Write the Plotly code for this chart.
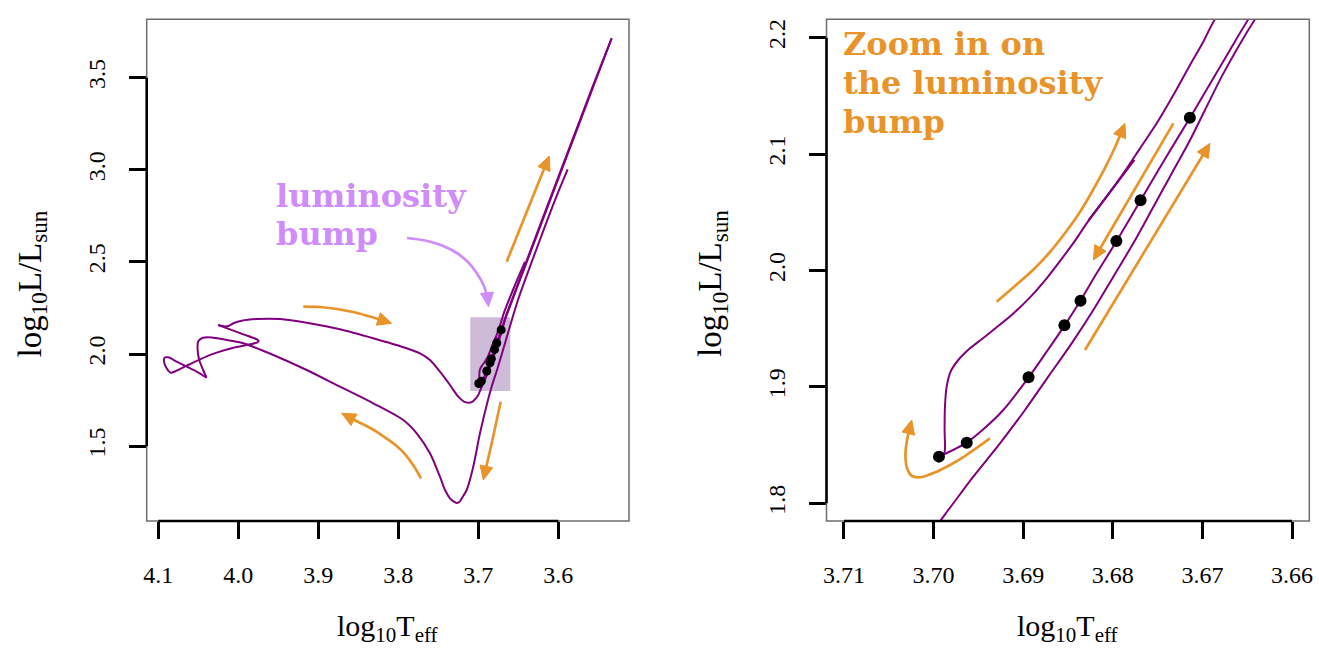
import math
import plotly.graph_objects as go

W, H = 1319, 649

# ---------------- data ----------------
# early part of the evolutionary track (pre-main sequence + main sequence): full HRD only
early_logT = [3.5883, 3.6041, 3.6354, 3.6504, 3.6629, 3.6754, 3.6833, 3.6879, 3.6979, 3.7063,
              3.7145, 3.7204, 3.7235, 3.7265, 3.7300, 3.7354, 3.7416, 3.7479, 3.7604, 3.7770,
              3.7938, 3.8313, 3.8729, 3.9145, 3.9563, 3.9938,
              4.0020, 4.0187, 4.0330, 4.0440, 4.0500, 4.0510, 4.0490, 4.0440, 4.0396,
              4.0520, 4.0646, 4.0771, 4.0875, 4.0921, 4.0929, 4.0896, 4.0846, 4.0771, 4.0646,
              4.0479, 4.0271, 4.0062, 3.9854, 3.9762, 3.9746, 3.9779, 3.9937, 4.0104, 4.0250,
              4.0179, 4.0121, 4.0054, 3.9958, 3.9771]
early_logL = [3.0029, 2.8362, 2.4742, 2.2935, 2.1144, 1.9299, 1.8230, 1.7510, 1.5700, 1.3888,
              1.2623, 1.2189, 1.1980, 1.1915, 1.1980, 1.2173, 1.2623, 1.3345, 1.4615, 1.5700,
              1.6422, 1.7329, 1.8230, 1.9136, 1.9950, 2.0585,
              2.0673, 2.0800, 2.0900, 2.0890, 2.0700, 2.0350, 1.9700, 1.9136, 1.8719,
              1.9045, 1.9317, 1.9588, 1.9823, 1.9805, 1.9588, 1.9226, 1.8991, 1.9100, 1.9371,
              1.9715, 2.0077, 2.0348, 2.0529, 2.0637, 2.0728, 2.0818, 2.1072, 2.1343, 2.1578,
              2.1506, 2.1524, 2.1687, 2.1813, 2.1904]

# later part of the track (post main sequence): both panels
late_logT = [3.9479, 3.9145, 3.8729, 3.8313, 3.7895, 3.7729, 3.7604, 3.7479, 3.7354, 3.7250,
             3.7180, 3.7125, 3.7070, 3.7030, 3.7000,
             3.69836, 3.69557, 3.69259, 3.68980, 3.68720, 3.68459, 3.68217, 3.67994, 3.67771,
             3.67566, 3.67362, 3.67157, 3.66971, 3.66785, 3.66599, 3.66413,
             3.6411, 3.6132, 3.5826, 3.5564, 3.5333,
             3.5572, 3.5834, 3.6140, 3.6419,
             3.66487, 3.66692, 3.66878, 3.67138, 3.67436, 3.67689, 3.67957, 3.68180, 3.68362,
             3.68537, 3.68738, 3.68939, 3.69222, 3.69445, 3.69631, 3.69936,
             3.69884, 3.69873, 3.69877, 3.69873, 3.69854, 3.69810, 3.69724, 3.69594, 3.69464,
             3.69334, 3.69129, 3.68924, 3.68738, 3.68552, 3.68403, 3.68292, 3.67760, 3.68273,
             3.68068, 3.67882, 3.67696, 3.67510, 3.67324, 3.67138, 3.66990, 3.66860, 3.6555, 3.6417]
late_logL = [2.1904, 2.1703, 2.1345, 2.0857, 2.0313, 2.0042, 1.9678, 1.9043, 1.8322, 1.7687,
             1.7420, 1.7363, 1.7420, 1.7600, 1.7780,
             1.79424, 1.82288, 1.85152, 1.88016, 1.90880, 1.93743, 1.96607, 1.99471, 2.02334,
             2.05198, 2.08062, 2.10926, 2.13790, 2.16653, 2.19230, 2.21578,
             2.48, 2.80, 3.15, 3.45, 3.7136,
             3.45, 3.15, 2.80, 2.48,
             2.21578, 2.18943, 2.16509, 2.13130, 2.09350, 2.06028, 2.02534, 1.99757, 1.97408,
             1.95289, 1.93027, 1.90822, 1.88016, 1.86355, 1.85209, 1.84007,
             1.84235, 1.84722, 1.86297, 1.88301, 1.90020, 1.91308, 1.92311, 1.93313, 1.94087,
             1.94888, 1.96177, 1.97695, 1.99327, 2.01188, 2.02763, 2.04051, 2.09493, 2.04281,
             2.06342, 2.08347, 2.10495, 2.12643, 2.15077, 2.17655, 2.19659, 2.21578, 2.36, 2.50]

# highlighted models (black dots)
bump_logT = [3.6994, 3.6963, 3.6894, 3.6854, 3.6836, 3.6796, 3.6769, 3.6714]
bump_logL = [1.8401, 1.8521, 1.9082, 1.9529, 1.9741, 2.0253, 2.0603, 2.1313]

# zoom window (logTeff hot, cool, logL low, high)
zoom_logT = [3.71, 3.66]
zoom_logL = [1.8, 2.2]

# axis ticks
left_xticks = [4.1, 4.0, 3.9, 3.8, 3.7, 3.6]
left_xlabels = ['4.1', '4.0', '3.9', '3.8', '3.7', '3.6']
left_yticks = [1.5, 2.0, 2.5, 3.0, 3.5]
left_ylabels = ['1.5', '2.0', '2.5', '3.0', '3.5']
right_xticks = [3.71, 3.70, 3.69, 3.68, 3.67, 3.66]
right_xlabels = ['3.71', '3.70', '3.69', '3.68', '3.67', '3.66']
right_yticks = [1.8, 1.9, 2.0, 2.1, 2.2]
right_ylabels = ['1.8', '1.9', '2.0', '2.1', '2.2']

# guide arrows (paths, last point = tip)
arrowA_logT = [3.6645, 3.6113]
arrowA_logL = [2.5014, 3.0750]
arrowB_logT = [3.6720, 3.6823, 3.6938]
arrowB_logL = [1.7415, 1.5337, 1.3165]
arrowC_logT = [3.7716, 3.7804, 3.7904, 3.8016, 3.8141, 3.8279, 3.8416, 3.8566, 3.8708]
arrowC_logL = [1.3258, 1.3909, 1.4506, 1.4995, 1.5402, 1.5809, 1.6134, 1.6460, 1.6786]
arrowD_logT = [3.9188, 3.8979, 3.8766, 3.8566, 3.8379, 3.8229, 3.8083]
arrowD_logL = [2.2571, 2.2555, 2.2446, 2.2283, 2.2066, 2.1876, 2.1670]
arrowBump_logT = [3.7891, 3.7666, 3.7454, 3.7279, 3.7129, 3.7016, 3.6929, 3.6885, 3.6872]
arrowBump_logL = [2.6300, 2.6164, 2.5893, 2.5513, 2.4997, 2.4373, 2.3695, 2.3098, 2.2571]
arrowR1_logT = [3.69296, 3.69092, 3.68891, 3.68701, 3.68533, 3.68366, 3.68221, 3.68087, 3.67964, 3.67864]
arrowR1_logL = [1.97320, 1.98668, 2.00043, 2.01589, 2.03222, 2.05026, 2.06916, 2.08806, 2.10782, 2.12646]
arrowR2_logT = [3.67324, 3.68217]
arrowR2_logL = [2.12643, 2.00902]
arrowR3_logT = [3.68310, 3.66915]
arrowR3_logL = [1.93170, 2.10925]
arrowR4_logT = [3.69371, 3.69505, 3.69650, 3.69817, 3.69973, 3.70129, 3.70241, 3.70297,
                3.70314, 3.70302, 3.70275, 3.70244]
arrowR4_logL = [1.85584, 1.84837, 1.84063, 1.83290, 1.82689, 1.82259, 1.82345, 1.83032,
                1.84063, 1.85180, 1.86211, 1.87156]

# text labels
bump_label_lines = ['luminosity', 'bump']
zoom_label_lines = ['Zoom in on', 'the luminosity', 'bump']

# ---------------- styling ----------------
PURPLE = '#800080'
ORANGE = '#E8942A'
LAVENDER = '#CF8CFA'
BOXFILL = '#CDBBD8'
SERIF = 'Liberation Serif'
ANNOT_FONT = 'DejaVu Serif'

LEFT_RANGE_X = [4.1145, 3.5116]
LEFT_RANGE_Y = [1.094, 3.817]
RIGHT_RANGE_X = [3.71195, 3.65807]
RIGHT_RANGE_Y = [1.7848, 2.2158]
XDOM_L = [146.7 / W, 629 / W]
XDOM_R = [826.5 / W, 1309.3 / W]
YDOM = [1 - 521 / H, 1 - 19.3 / H]
HEAD_LEN, HEAD_HALF_W = 14.0, 6.5   # arrowhead size in pixels


def px_scale(xr, yr, xdom):
    sx = (xdom[1] - xdom[0]) * W / abs(xr[1] - xr[0])
    sy = (YDOM[1] - YDOM[0]) * H / abs(yr[1] - yr[0])
    return sx, sy


def split_at_sharp_turns(xs, ys, sx, sy, max_turn=100.0):
    """split a polyline where it reverses direction, so each piece can be smoothed"""
    pieces = [[0]]
    for i in range(1, len(xs) - 1):
        v1 = ((xs[i] - xs[i - 1]) * sx, (ys[i] - ys[i - 1]) * sy)
        v2 = ((xs[i + 1] - xs[i]) * sx, (ys[i + 1] - ys[i]) * sy)
        ang = math.degrees(abs(math.atan2(v1[0] * v2[1] - v1[1] * v2[0],
                                          v1[0] * v2[0] + v1[1] * v2[1])))
        pieces[-1].append(i)
        if ang > max_turn:
            pieces.append([i])
    pieces[-1].append(len(xs) - 1)
    return pieces


fig = go.Figure()
scale_L = px_scale(LEFT_RANGE_X, LEFT_RANGE_Y, XDOM_L)
scale_R = px_scale(RIGHT_RANGE_X, RIGHT_RANGE_Y, XDOM_R)


def add_track(xs, ys, xa, ya, scale):
    sx, sy = scale
    for idx in split_at_sharp_turns(xs, ys, sx, sy):
        fig.add_trace(go.Scatter(x=[xs[i] for i in idx], y=[ys[i] for i in idx], mode='lines',
                                 line=dict(color=PURPLE, width=2, shape='spline', smoothing=0.8),
                                 xaxis=xa, yaxis=ya, hoverinfo='skip'))


def add_arrow(xs, ys, xa, ya, scale, col):
    # logT axis is reversed: screen-right = decreasing logT
    sx, sy = scale
    dx = -(xs[-1] - xs[-2]) * sx
    dy = (ys[-1] - ys[-2]) * sy
    n = math.hypot(dx, dy)
    ux, uy = dx / n, dy / n
    px_, py_ = -uy, ux

    def to_data(ox, oy):
        return xs[-1] - ox / sx, ys[-1] + oy / sy

    base = to_data(-HEAD_LEN * ux, -HEAD_LEN * uy)
    inner = to_data(-(HEAD_LEN - 3) * ux, -(HEAD_LEN - 3) * uy)
    c1 = to_data(-HEAD_LEN * ux + HEAD_HALF_W * px_, -HEAD_LEN * uy + HEAD_HALF_W * py_)
    c2 = to_data(-HEAD_LEN * ux - HEAD_HALF_W * px_, -HEAD_LEN * uy - HEAD_HALF_W * py_)
    shaft_x = xs[:-1] + [inner[0]]
    shaft_y = ys[:-1] + [inner[1]]
    fig.add_trace(go.Scatter(x=shaft_x, y=shaft_y, mode='lines',
                             line=dict(color=col, width=2.7, shape='spline', smoothing=0.8),
                             xaxis=xa, yaxis=ya, hoverinfo='skip'))
    fig.add_trace(go.Scatter(x=[xs[-1], c1[0], base[0] + 0 * inner[0], c2[0], xs[-1]],
                             y=[ys[-1], c1[1], base[1], c2[1], ys[-1]],
                             mode='lines', fill='toself', fillcolor=col,
                             line=dict(color=col, width=1), xaxis=xa, yaxis=ya, hoverinfo='skip'))


add_track(early_logT + late_logT, early_logL + late_logL, 'x', 'y', scale_L)
add_track(late_logT, late_logL, 'x2', 'y2', scale_R)

arrows = [
    (arrowA_logT, arrowA_logL, 'x', 'y', scale_L, ORANGE),
    (arrowB_logT, arrowB_logL, 'x', 'y', scale_L, ORANGE),
    (arrowC_logT, arrowC_logL, 'x', 'y', scale_L, ORANGE),
    (arrowD_logT, arrowD_logL, 'x', 'y', scale_L, ORANGE),
    (arrowBump_logT, arrowBump_logL, 'x', 'y', scale_L, LAVENDER),
    (arrowR1_logT, arrowR1_logL, 'x2', 'y2', scale_R, ORANGE),
    (arrowR2_logT, arrowR2_logL, 'x2', 'y2', scale_R, ORANGE),
    (arrowR3_logT, arrowR3_logL, 'x2', 'y2', scale_R, ORANGE),
    (arrowR4_logT, arrowR4_logL, 'x2', 'y2', scale_R, ORANGE),
]
for xs, ys, xa, ya, sc, col in arrows:
    add_arrow(xs, ys, xa, ya, sc, col)

fig.add_trace(go.Scatter(x=bump_logT, y=bump_logL, mode='markers',
                         marker=dict(color='black', size=9), xaxis='x', yaxis='y', hoverinfo='skip'))
fig.add_trace(go.Scatter(x=bump_logT, y=bump_logL, mode='markers',
                         marker=dict(color='black', size=12), xaxis='x2', yaxis='y2', hoverinfo='skip'))

annotations = []
# text labels, one annotation per line (left edge and top edge in pixels)
for i, line in enumerate(bump_label_lines):
    annotations.append(dict(x=274 / W, y=1 - (175 + 38.5 * i) / H, xref='paper', yref='paper',
                            xanchor='left', yanchor='top', showarrow=False, text='<b>%s</b>' % line,
                            font=dict(family=ANNOT_FONT, size=32, color=LAVENDER)))
for i, line in enumerate(zoom_label_lines):
    annotations.append(dict(x=841 / W, y=1 - (23 + 39 * i) / H, xref='paper', yref='paper',
                            xanchor='left', yanchor='top', showarrow=False, text='<b>%s</b>' % line,
                            font=dict(family=ANNOT_FONT, size=32, color=ORANGE)))

# axis titles
xt = 'log<sub>10</sub>T<sub>eff</sub>'
yt = 'log<sub>10</sub>L/L<sub>sun</sub>'
for xc in (387.85, 1067.9):
    annotations.append(dict(x=xc / W, y=0, xref='paper', yref='paper', showarrow=False,
                            xanchor='center', yanchor='bottom', text=xt,
                            font=dict(family=SERIF, size=30, color='black')))
for xc in (31.5, 712):
    annotations.append(dict(x=xc / W, y=1 - 284 / H, xref='paper', yref='paper', showarrow=False,
                            xanchor='center', yanchor='middle', text=yt, textangle=-90,
                            font=dict(family=SERIF, size=33, color='black')))

shapes = [
    dict(type='rect', xref='x', yref='y', x0=zoom_logT[0], x1=zoom_logT[1],
         y0=zoom_logL[0], y1=zoom_logL[1], fillcolor=BOXFILL, line=dict(width=0), layer='below'),
]
for xr, yr, xt_, yt_ in (('x', 'y', left_xticks, left_yticks), ('x2', 'y2', right_xticks, right_yticks)):
    shapes.append(dict(type='rect', xref=xr + ' domain', yref=yr + ' domain', x0=0, x1=1, y0=0, y1=1,
                       line=dict(color='#6e6e6e', width=1.5), fillcolor='rgba(0,0,0,0)'))
    shapes.append(dict(type='line', xref=xr, yref=yr + ' domain', x0=xt_[0], x1=xt_[-1], y0=0, y1=0,
                       line=dict(color='black', width=2.6)))
    shapes.append(dict(type='line', xref=xr + ' domain', yref=yr, x0=0, x1=0, y0=yt_[0], y1=yt_[-1],
                       line=dict(color='black', width=2.6)))

axis_common = dict(showgrid=False, zeroline=False, showline=False, ticks='outside', ticklen=17,
                   tickwidth=2.6, tickcolor='black', automargin=False, fixedrange=True,
                   tickfont=dict(family=SERIF, size=24, color='black'))

fig.update_layout(
    width=W, height=H, margin=dict(l=0, r=0, t=0, b=0), template='none',
    paper_bgcolor='white', plot_bgcolor='white', showlegend=False,
    font=dict(family=SERIF, size=24, color='black'),
    xaxis=dict(domain=XDOM_L, range=LEFT_RANGE_X, anchor='y',
               tickvals=left_xticks, ticktext=left_xlabels, ticklabelstandoff=15, **axis_common),
    yaxis=dict(domain=YDOM, range=LEFT_RANGE_Y, anchor='x', tickangle=-90,
               tickvals=left_yticks, ticktext=left_ylabels, ticklabelstandoff=14, **axis_common),
    xaxis2=dict(domain=XDOM_R, range=RIGHT_RANGE_X, anchor='y2',
                tickvals=right_xticks, ticktext=right_xlabels, ticklabelstandoff=15, **axis_common),
    yaxis2=dict(domain=YDOM, range=RIGHT_RANGE_Y, anchor='x2', tickangle=-90,
                tickvals=right_yticks, ticktext=right_ylabels, ticklabelstandoff=14, **axis_common),
    annotations=annotations,
    shapes=shapes,
)

fig.write_html("out.html", config={'displayModeBar': False},
               post_script="document.body.style.margin='0px';document.body.style.overflow='hidden';")
